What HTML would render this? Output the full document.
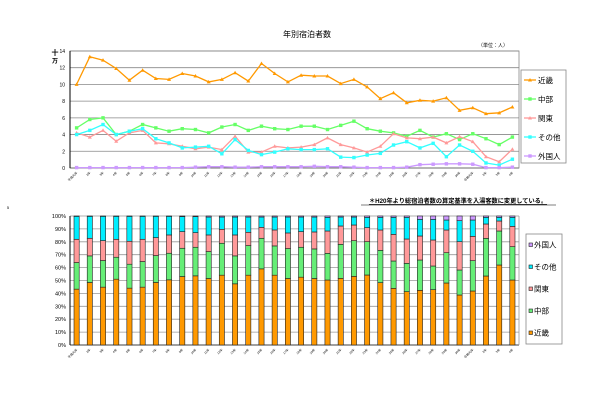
<!DOCTYPE html>
<html><head><meta charset="utf-8"><style>
html,body{margin:0;padding:0;background:#fff;width:600px;height:416px;overflow:hidden}
svg{display:block}
text{font-family:"Liberation Sans","Noto Sans CJK JP",sans-serif}
</style></head><body>
<svg id="s" width="600" height="416" viewBox="0 0 600 416" xmlns="http://www.w3.org/2000/svg"></svg>
<script>
var o='';
function R(x,y,w,h,f,s){o+='<rect x="'+x+'" y="'+y+'" width="'+w+'" height="'+h+'" fill="'+f+'"'+(s?' stroke="'+s+'" stroke-width="0.6"':'')+'/>';}
function L(a,b,c,d,s,w){o+='<line x1="'+a+'" y1="'+b+'" x2="'+c+'" y2="'+d+'" stroke="'+s+'" stroke-width="'+(w||1)+'"/>';}
function T(x,y,t,sz,a,extra){o+='<text x="'+x+'" y="'+y+'" font-size="'+sz+'" text-anchor="'+(a||'start')+'" '+(extra||'')+'>'+t+'</text>';}
var labs=['平成元年'];for(var i=2;i<=30;i++)labs.push(i+'年');labs.push('令和元年','2年','3年','4年');
var X0=70,X1=519,N=34,cw=(X1-X0)/N;function cx(i){return X0+cw*(i+0.5);}
// top chart
T(307,37,'年別宿泊者数',8,'middle');
T(493,47,'（単位：人）',5,'middle');
T(55,55,'十',7,'middle','font-weight="bold"');T(55,63,'万',6,'middle','font-weight="bold"');
var Y0=168,k=8.36;
for(var v=0;v<=14;v+=2){var y=Y0-v*k;L(X0,y,X1,y,v?'#888':'#000',v?0.8:1);T(65,y+2,v,5,'end');}
o+='<rect x="'+X0+'" y="51" width="'+(X1-X0)+'" height="117" fill="none" stroke="#888" stroke-width="0.8"/>';
L(X0,51,X0,168,'#000',1);
var ser=[
['#ff9900',[10,13.3,12.9,11.9,10.5,11.7,10.7,10.6,11.3,11.0,10.3,10.6,11.4,10.4,12.5,11.3,10.3,11.1,11.0,11.0,10.1,10.6,9.7,8.3,9.0,7.8,8.1,8.0,8.4,6.9,7.2,6.5,6.6,7.3]],
['#66ff66',[4.8,5.8,6.0,4.0,4.4,5.2,4.8,4.4,4.7,4.6,4.2,4.9,5.2,4.5,5.0,4.7,4.6,5.0,5.0,4.6,5.1,5.6,4.7,4.4,4.2,3.8,4.5,3.7,4.1,3.4,4.1,3.5,2.8,3.7]],
['#ff9999',[4.2,3.7,4.5,3.2,4.2,4.5,3.0,2.9,2.6,2.3,2.5,2.2,3.8,1.9,1.9,2.6,2.4,2.5,2.8,3.6,2.8,2.4,1.9,2.6,4.1,3.6,3.5,3.7,3.0,3.75,3.15,1.35,0.75,2.25]],
['#33ffff',[4.0,4.5,5.2,4.0,4.4,4.7,3.5,3.0,2.4,2.5,2.6,1.7,3.4,2.1,1.6,1.9,2.3,2.2,2.2,2.3,1.3,1.25,1.55,1.75,2.75,3.15,2.4,2.95,1.35,2.75,2.0,0.6,0.35,1.05]],
['#cc99ff',[0.05,0.05,0.05,0.05,0.05,0.05,0.05,0.05,0.05,0.1,0.15,0.15,0.1,0.1,0.15,0.15,0.15,0.15,0.2,0.15,0.15,0.1,0.05,0.05,0.05,0.1,0.4,0.45,0.5,0.5,0.45,0.05,0.05,0.1]]];
ser.forEach(function(s,j){var p=s[1].map(function(v,i){return cx(i).toFixed(1)+','+(Y0-v*k).toFixed(1)}).join(' ');
o+='<polyline points="'+p+'" fill="none" stroke="'+s[0]+'" stroke-width="1.3"/>';
s[1].forEach(function(v,i){var x=cx(i),y=Y0-v*k;if(j==0||j==2)o+='<polygon points="'+x+','+(y-2)+' '+(x+2)+','+(y+1.5)+' '+(x-2)+','+(y+1.5)+'" fill="'+s[0]+'"/>';else R(x-1.7,y-1.7,3.4,3.4,s[0]);});});
for(var i=0;i<N;i++){o+='<text font-size="3" text-anchor="end" transform="translate('+(cx(i)+1)+',173) rotate(-45)">'+labs[i]+'</text>';}
// top legend
o+='<rect x="521" y="70" width="45" height="93" fill="#fff" stroke="#888" stroke-width="0.8"/>';
var ln=['近畿','中部','関東','その他','外国人'];
ln.forEach(function(n,j){var y=80+j*19;L(524,y,536,y,ser[j][0],1.3);if(j==0||j==2)o+='<polygon points="530,'+(y-2)+' 532,'+(y+1.5)+' 528,'+(y+1.5)+'" fill="'+ser[j][0]+'"/>';else R(528.3,y-1.7,3.4,3.4,ser[j][0]);T(538,y+3,n,7.5);});
// note
T(458,203,'＊H20年より総宿泊者数の算定基準を入湯客数に変更している。',6.2,'middle','font-weight="bold" text-decoration="underline"');
L(361,205,556,205,'#000',0.6);
// bottom chart
var B0=345,B1=216,bh=B0-B1;
for(var v=0;v<=100;v+=10){var y=B0-v/100*bh;L(X0,y,X1,y,v?'#999':'#000',0.8);T(66,y+2,v+'%',5.5,'end');}
L(X0,B1,X0,B0,'#000',1);L(X1,B1,X1,B0,'#999',0.8);
function pz(v){return (436-v)/388*100;}function pz2(v){return (345-(195+v/3))/129*100;}
var kin=[268,248,262,238,265,262,248,240,230,228,236,226,252,226,207,226,236,232,236].map(pz).concat([255,250,244,240,263,280,290,286,284,264,300,288,243,210,255].map(pz2));
var chu=[188,168,182,172,193,185,167,160,145,142,155,130,168,137,115,138,146,142,147].map(pz).concat([175,148,137,140,166,198,205,195,213,173,225,197,130,108,155].map(pz2));
var kan=[118,115,122,118,124,118,113,105,95,98,105,88,105,97,82,90,99,95,96].map(pz).concat([108,93,90,98,105,118,132,123,135,105,140,124,87,78,94].map(pz2));
var oth=[49,49,49,49,49,49,49,49,50,50,51,51,51,51,51,51,51,51,51].map(pz).concat([67,66,66,67,67,67,67,73,73,75,77,75,67,67,67].map(pz2));
var bc=['#ff9900','#66ee77','#ff9999','#00eeff','#cc99ff'];
for(var i=0;i<N;i++){var x=cx(i)-2.6,w=5.2;var lv=[0,kin[i],chu[i],kan[i],oth[i],100];
for(var j=0;j<5;j++){var y1=B0-lv[j+1]/100*bh,y0=B0-lv[j]/100*bh;if(y0-y1>0.2)R(x,y1,w,y0-y1,bc[j],'#222');}
o+='<text font-size="3" text-anchor="end" transform="translate('+(cx(i)+1)+',350) rotate(-45)">'+labs[i]+'</text>';}
o+='<rect x="526" y="234" width="36" height="110" fill="#fff" stroke="#888" stroke-width="0.8"/>';
['外国人','その他','関東','中部','近畿'].forEach(function(n,j){var y=245+j*22;R(529,y-2,3.5,3.5,bc[4-j],'#222');T(534,y+2.5,n,7.5);});
T(8,209,'5',4,'middle');
document.getElementById('s').innerHTML=o;
</script>
</body></html>
